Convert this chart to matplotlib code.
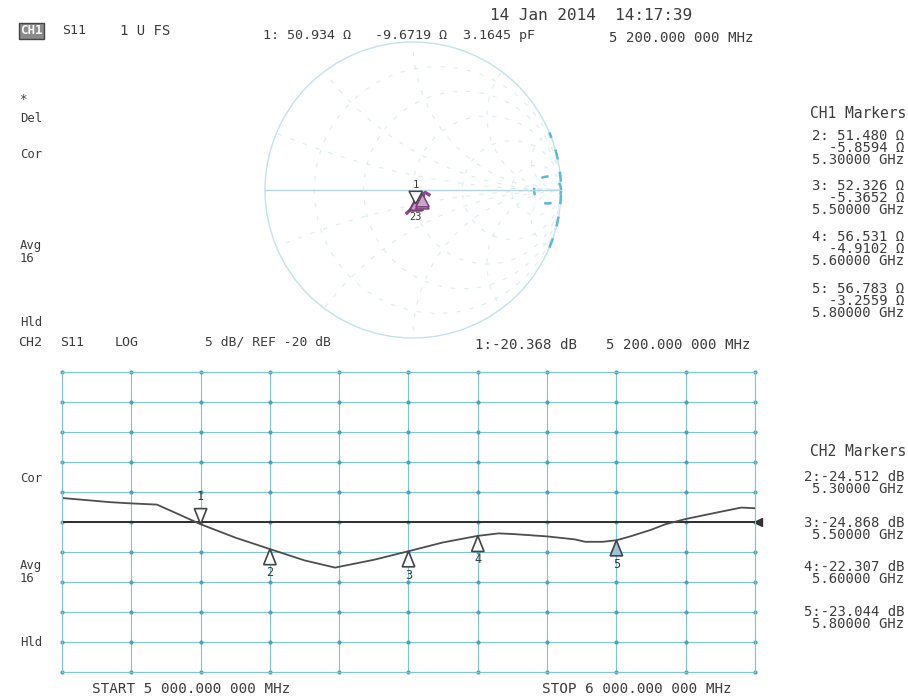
import matplotlib
matplotlib.use("Agg")
import matplotlib.pyplot as plt
import numpy as np
from matplotlib.patches import Circle, Polygon

W, H = 908, 700
TXT = '#3c3c3c'
GRID = '#7cc6d7'
MONO = 'DejaVu Sans Mono'

# CH2 trace (S11 log mag)
freq_ghz = [5.00, 5.03, 5.07, 5.10, 5.137, 5.17, 5.20, 5.25, 5.30, 5.35, 5.394,
            5.45, 5.50, 5.55, 5.60, 5.63, 5.65, 5.70, 5.74, 5.755, 5.78, 5.80,
            5.82, 5.85, 5.87, 5.90, 5.95, 5.98, 6.00]
s11_db = [-16.0, -16.3, -16.7, -16.9, -17.1, -18.8, -20.37, -22.6, -24.51, -26.4, -27.6,
          -26.3, -24.87, -23.4, -22.31, -21.9, -22.0, -22.4, -22.9, -23.3, -23.3, -23.04,
          -22.4, -21.3, -20.4, -19.5, -18.3, -17.6, -17.7]

# markers
mk_num = [1, 2, 3, 4, 5]
mk_freq = [5.2, 5.3, 5.5, 5.6, 5.8]
mk_db = [-20.368, -24.512, -24.868, -22.307, -23.044]
mk_res = [50.934, 51.480, 52.326, 56.531, 56.783]
mk_reac = [-9.6719, -5.8594, -5.3652, -4.9102, -3.2559]

# CH1 smith trace impedances (ohm), ends estimated
sm_freq = [5.0, 5.1, 5.2, 5.3, 5.4, 5.5, 5.6, 5.7, 5.8, 5.9, 6.0]
sm_res = [44.0, 47.0, 50.934, 51.480, 50.5, 52.326, 56.531, 57.5, 56.783, 59.0, 62.0]
sm_reac = [-14.0, -12.5, -9.6719, -5.8594, -4.0, -5.3652, -4.9102, -4.5, -3.2559, -2.0, -4.0]

ref_db = -20
db_per_div = 5

def fx(x):
    return x / W

def fy(y):
    return 1 - y / H

fig = plt.figure(figsize=(W / 100, H / 100), dpi=100)
fig.patch.set_facecolor('white')

def txt(x, y, s, size=9, ha='left', va='center', **kw):
    fig.text(fx(x), fy(y), s, fontsize=size, ha=ha, va=va, color=TXT,
             family=MONO, **kw)

# ---------------- header texts ----------------
fig.text(fx(20), fy(31), 'CH1', fontsize=9, ha='left', va='center', color='#f4f4f4',
         family=MONO, weight='bold',
         bbox=dict(boxstyle='square,pad=0.12', fc='#8a8a8a', ec='#444', lw=1))
txt(62, 31, 'S11', 9.5)
txt(120, 31, '1 U FS', 10)
txt(263, 35, '1: 50.934 \u03a9   -9.6719 \u03a9  3.1645 pF', 9.6)
txt(490, 15, '14 Jan 2014  14:17:39', 11.5)
txt(609, 38, '5 200.000 000 MHz', 10.2)

# left soft key labels
for y, s in [(100, '*'), (118, 'Del'), (154, 'Cor'), (252, 'Avg\n16'),
             (323, 'Hld'), (478, 'Cor'), (572, 'Avg\n16'), (642, 'Hld')]:
    txt(20, y, s, 8.8, linespacing=0.9)

# CH1 marker listing
txt(906, 113, 'CH1 Markers', 10.5, ha='right')
ys = [148, 198, 249, 301]
for i in range(1, 5):
    s = '%d: %.3f \u03a9\n%.4f \u03a9\n%.5f GHz' % (mk_num[i], mk_res[i], mk_reac[i], mk_freq[i])
    txt(904, ys[i - 1], s, 10, ha='right', multialignment='right', linespacing=0.78)

# CH2 header
txt(18, 342, 'CH2', 9.5)
txt(60, 342, 'S11', 9.5)
txt(115, 342, 'LOG', 9.5)
txt(205, 342, '%d dB/ REF %d dB' % (db_per_div, ref_db), 9.4)
txt(475, 345, '1:%.3f dB' % mk_db[0], 10.2)
txt(606, 345, '5 200.000 000 MHz', 10.2)

# CH2 marker listing
txt(906, 451, 'CH2 Markers', 10.5, ha='right')
ys2 = [483, 529, 573, 618]
for i in range(1, 5):
    s = '%d:%.3f dB\n%.5f GHz' % (mk_num[i], mk_db[i], mk_freq[i])
    txt(904, ys2[i - 1], s, 10, ha='right', multialignment='right', linespacing=0.8)

txt(92, 689, 'START 5 000.000 000 MHz', 10.3)
txt(542, 689, 'STOP 6 000.000 000 MHz', 10.3)

# ---------------- CH2 log mag grid ----------------
ax = fig.add_axes([fx(62), fy(672), (755 - 62) / W, 300 / H])
top = ref_db + 5 * db_per_div
bot = ref_db - 5 * db_per_div
ax.set_xlim(5.0, 6.0)
ax.set_ylim(bot, top)
ax.set_xticks(np.arange(5.0, 6.01, 0.1))
ax.set_yticks(np.arange(bot, top + 0.1, db_per_div))
ax.grid(True, color=GRID, lw=0.8)
ax.tick_params(left=False, bottom=False, labelleft=False, labelbottom=False)
for sp in ax.spines.values():
    sp.set_color(GRID)
    sp.set_linewidth(0.8)
gx, gy = np.meshgrid(np.arange(5.0, 6.01, 0.1), np.arange(bot, top + 0.1, db_per_div))
ax.plot(gx.ravel(), gy.ravel(), 'o', ms=2.0, color='#4aa6bd', clip_on=False)

ax.axhline(ref_db, color='#2e2e2e', lw=1.4)
ax.plot([6.004], [ref_db], '<', ms=6, color='#333', clip_on=False)
ax.plot(freq_ghz, s11_db, color='#4e4e4e', lw=1.3)

tw, th = 0.009, 2.6
for n, f, v in zip(mk_num, mk_freq, mk_db):
    if n == 1:
        tri = [(f, v), (f - tw, v + th), (f + tw, v + th)]
        ax.add_patch(Polygon(tri, closed=True, fc='white', ec='#444', lw=1.2, zorder=5))
        ax.text(f, v + th + 1.0, str(n), ha='center', va='bottom', fontsize=8.5,
                family=MONO, color=TXT)
    else:
        tri = [(f, v), (f - tw, v - th), (f + tw, v - th)]
        fc = '#9cc4d6' if n == 5 else 'white'
        ax.add_patch(Polygon(tri, closed=True, fc=fc, ec='#444', lw=1.2, zorder=5))
        ax.text(f, v - th - 0.3, str(n), ha='center', va='top', fontsize=8.5,
                family=MONO, color=TXT)

# ---------------- CH1 smith chart ----------------
R = 148
half = 158
sx = fig.add_axes([fx(413 - half), fy(190 + half), 2 * half / W, 2 * half / H])
lim = half / R
sx.set_xlim(-lim, lim)
sx.set_ylim(-lim, lim)
sx.axis('off')

unit = Circle((0, 0), 1, transform=sx.transData, fc='none', ec='none')
sx.add_patch(unit)
sx.add_patch(Circle((0, 0), 1, fc='none', ec='#c4e2ea', lw=1.0))
t = np.linspace(0, 2 * np.pi, 400)
faint = '#dcedf1'
for r in [0.2, 0.5, 1.0, 2.0, 5.0]:
    c, rad = r / (1 + r), 1 / (1 + r)
    sx.plot(c + rad * np.cos(t), rad * np.sin(t), color=faint, lw=0.8, ls=(0, (4, 8)))
for xv in [0.2, 0.5, 1.0, 2.0, 5.0]:
    for sgn in [1, -1]:
        ln, = sx.plot(1 + np.cos(t) / xv, sgn / xv + np.sin(t) / xv, color=faint,
                      lw=0.8, ls=(0, (4, 8)))
        ln.set_clip_path(unit)
c10, r10 = 10 / 11, 1 / 11
sx.plot(c10 + r10 * np.cos(t), r10 * np.sin(t), color='#5bb8d8', lw=1.8, ls=(0, (3, 5)))
a = np.linspace(-0.4, 0.4, 60)
sx.plot(np.cos(a), np.sin(a), color='#5bb8d8', lw=1.8, ls=(0, (4, 5)))
sx.plot([-1, 1], [0, 0], color='#b4d6de', lw=1.0)

z = (np.array(sm_res) + 1j * np.array(sm_reac)) / 50.0
g = (z - 1) / (z + 1)
sx.plot(g.real, g.imag, color='#8a4a8a', lw=2.4)

zm = (np.array(mk_res) + 1j * np.array(mk_reac)) / 50.0
gm = (zm - 1) / (zm + 1)
sw, sh = 0.045, 0.085
for n, p in zip(mk_num, gm):
    if n == 1:
        tri = [(p.real, p.imag), (p.real - sw, p.imag + sh), (p.real + sw, p.imag + sh)]
        sx.add_patch(Polygon(tri, closed=True, fc='white', ec='#444', lw=1.1, zorder=6))
        sx.text(p.real, p.imag + sh + 0.01, '1', ha='center', va='bottom', fontsize=7.5,
                family=MONO, color=TXT)
    else:
        tri = [(p.real, p.imag), (p.real - sw, p.imag - sh), (p.real + sw, p.imag - sh)]
        sx.add_patch(Polygon(tri, closed=True, fc='#c9a5c9', ec='#7a3f7a', lw=1.1, zorder=5))
sx.text(gm[1].real, gm[1].imag - sh - 0.01, '23', ha='center', va='top', fontsize=7.5,
        family=MONO, color=TXT)

fig.savefig('out.png', dpi=100, facecolor='white')
